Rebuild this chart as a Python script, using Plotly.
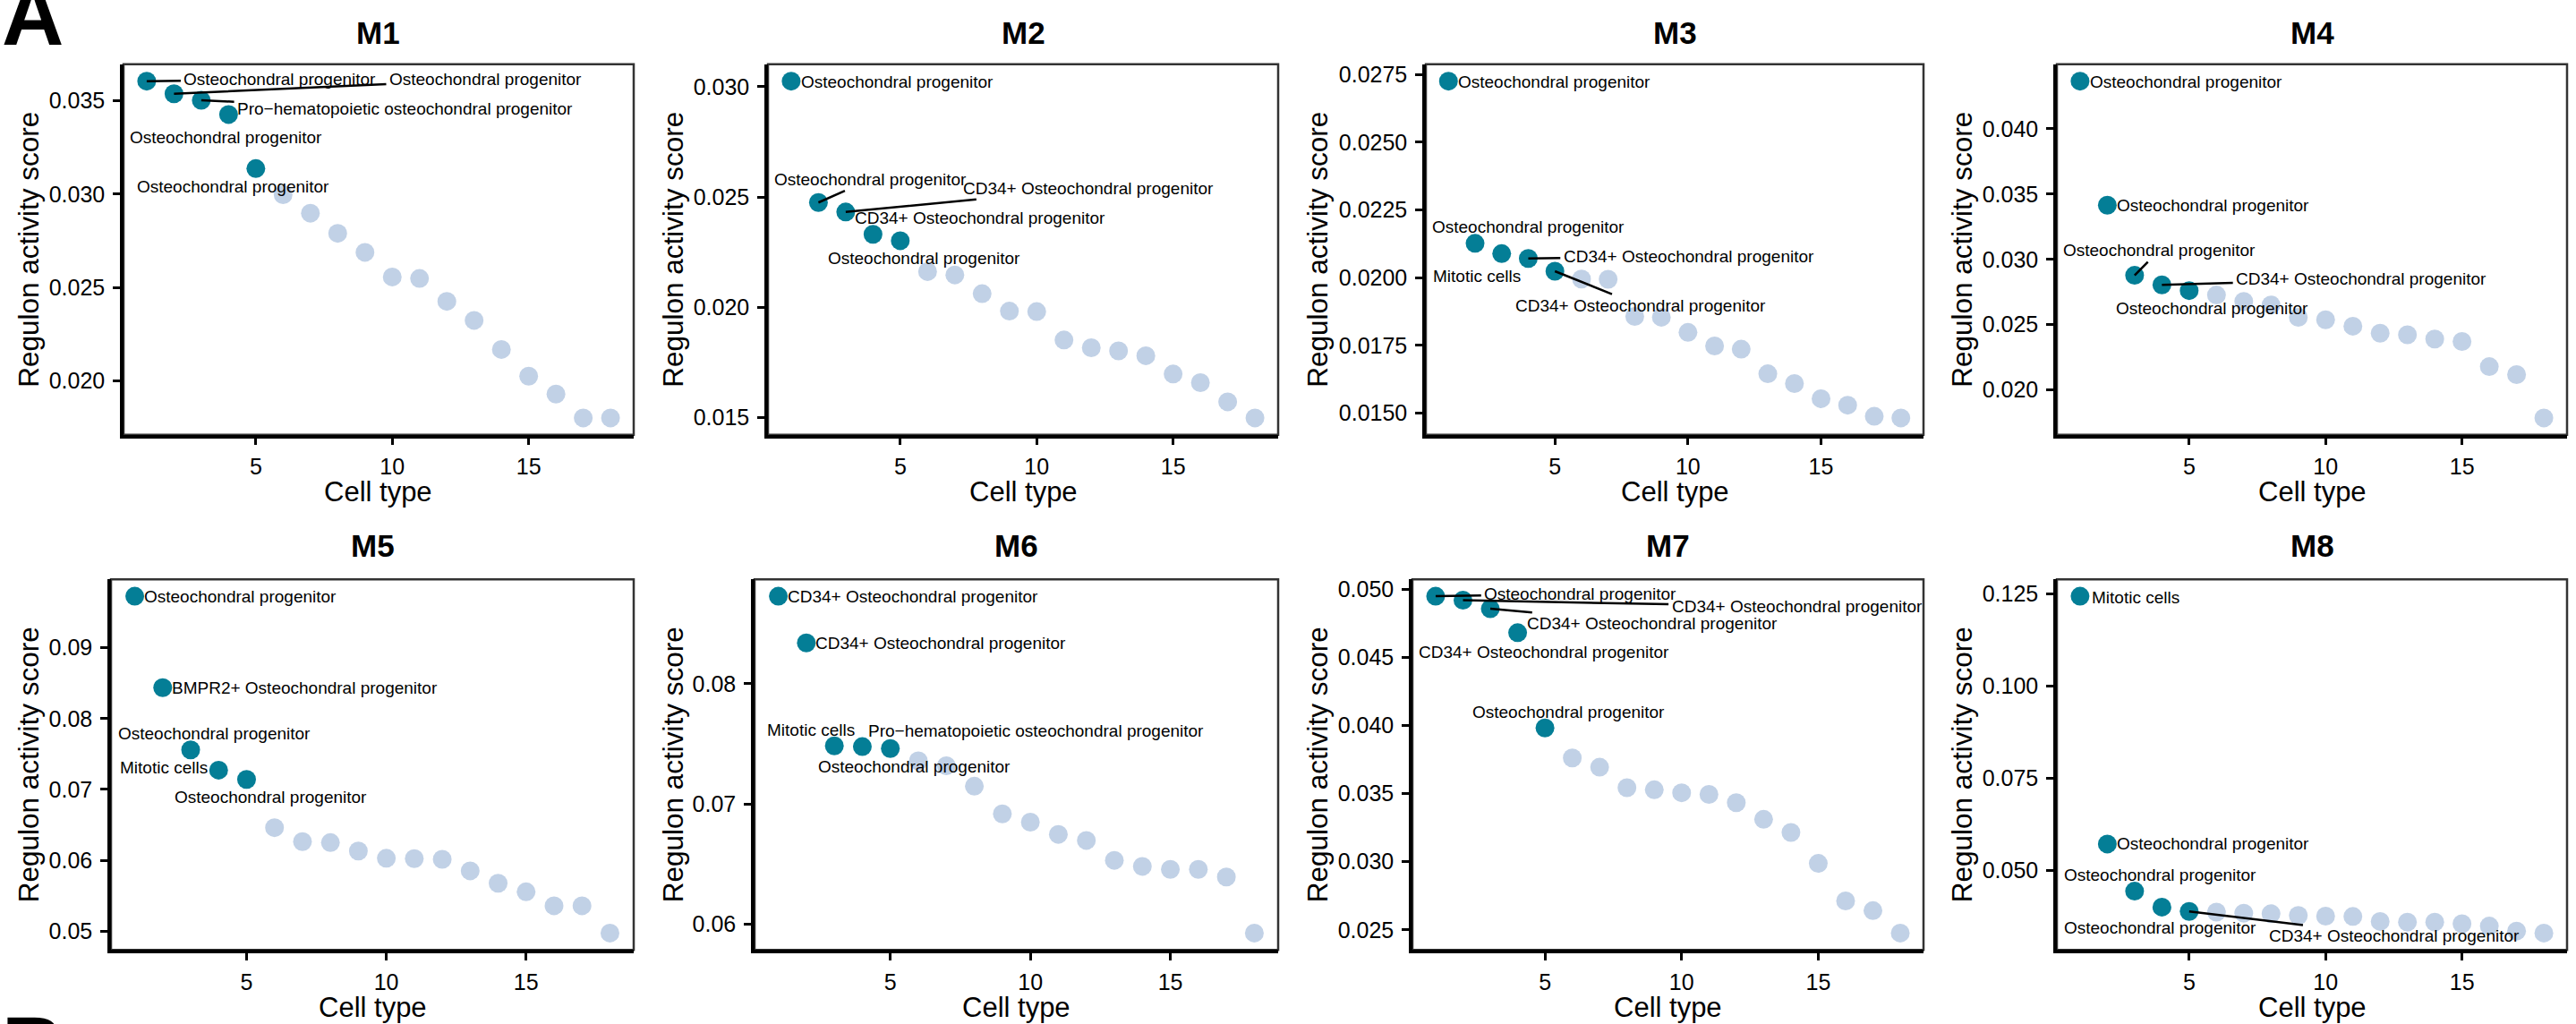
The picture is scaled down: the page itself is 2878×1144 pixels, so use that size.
import plotly.graph_objects as go

# ---------------- data ----------------
cell_type = list(range(1, 19))
module_names = ["M1", "M2", "M3", "M4", "M5", "M6", "M7", "M8"]

m1_scores = [0.03606, 0.03538, 0.03503, 0.03427, 0.03137, 0.02997, 0.02898, 0.02790, 0.02688,
             0.02556, 0.02548, 0.02425, 0.02323, 0.02167, 0.02024, 0.01928, 0.01800, 0.01800]
m2_scores = [0.03025, 0.02475, 0.02432, 0.02331, 0.02302, 0.02162, 0.02147, 0.02062, 0.01983,
             0.01981, 0.01852, 0.01817, 0.01803, 0.01781, 0.01698, 0.01659, 0.01572, 0.01499]
m3_scores = [0.02726, 0.02127, 0.02089, 0.02071, 0.02024, 0.01995, 0.01994, 0.01857, 0.01854,
             0.01798, 0.01748, 0.01736, 0.01645, 0.01609, 0.01553, 0.01529, 0.01488, 0.01482]
m4_scores = [0.04366, 0.03415, 0.02878, 0.02805, 0.02761, 0.02727, 0.02678, 0.02651, 0.02556,
             0.02537, 0.02488, 0.02434, 0.02422, 0.02390, 0.02371, 0.02178, 0.02117, 0.01785]
m5_scores = [0.09728, 0.08437, 0.07559, 0.07272, 0.07141, 0.06460, 0.06263, 0.06249, 0.06131,
             0.06028, 0.06023, 0.06014, 0.05850, 0.05676, 0.05554, 0.05357, 0.05357, 0.04972]
m6_scores = [0.08728, 0.08340, 0.07483, 0.07477, 0.07461, 0.07358, 0.07317, 0.07147, 0.06917,
             0.06848, 0.06746, 0.06696, 0.06530, 0.06480, 0.06455, 0.06455, 0.06392, 0.05925]
m7_scores = [0.04951, 0.04922, 0.04859, 0.04683, 0.03983, 0.03763, 0.03695, 0.03544, 0.03529,
             0.03507, 0.03495, 0.03434, 0.03312, 0.03215, 0.02988, 0.02712, 0.02641, 0.02476]
m8_scores = [0.12428, 0.05720, 0.04442, 0.04010, 0.03893, 0.03875, 0.03848, 0.03830, 0.03785,
             0.03767, 0.03758, 0.03623, 0.03605, 0.03605, 0.03560, 0.03497, 0.03362, 0.03308]

OP = "Osteochondral progenitor"
CD = "CD34+ Osteochondral progenitor"
PH = "Pro\u2212hematopoietic osteochondral progenitor"
MC = "Mitotic cells"
BM = "BMPR2+ Osteochondral progenitor"

m1_labels = [OP, OP, PH, OP, OP]
m2_labels = [OP, OP, CD, CD, OP]
m3_labels = [OP, OP, MC, CD, CD]
m4_labels = [OP, OP, OP, CD, OP]
m5_labels = [OP, BM, OP, MC, OP]
m6_labels = [CD, CD, MC, OP, PH]
m7_labels = [OP, CD, CD, CD, OP]
m8_labels = [MC, OP, OP, OP, CD]

m1_yticks = ["0.020", "0.025", "0.030", "0.035"]
m2_yticks = ["0.015", "0.020", "0.025", "0.030"]
m3_yticks = ["0.0150", "0.0175", "0.0200", "0.0225", "0.0250", "0.0275"]
m4_yticks = ["0.020", "0.025", "0.030", "0.035", "0.040"]
m5_yticks = ["0.05", "0.06", "0.07", "0.08", "0.09"]
m6_yticks = ["0.06", "0.07", "0.08"]
m7_yticks = ["0.025", "0.030", "0.035", "0.040", "0.045", "0.050"]
m8_yticks = ["0.050", "0.075", "0.100", "0.125"]
x_ticks = ["5", "10", "15"]

x_title = "Cell type"
y_title = "Regulon activity score"
n_highlight = 5

scores = [m1_scores, m2_scores, m3_scores, m4_scores, m5_scores, m6_scores, m7_scores, m8_scores]
labels = [m1_labels, m2_labels, m3_labels, m4_labels, m5_labels, m6_labels, m7_labels, m8_labels]
yticks = [m1_yticks, m2_yticks, m3_yticks, m4_yticks, m5_yticks, m6_yticks, m7_yticks, m8_yticks]

# ---------------- layout / style ----------------
W, H = 2878, 1144
FONT = "Liberation Sans, Arial, Helvetica, sans-serif"
TEAL = "#047E96"
LIGHT = "#C1D1E6"

# panel box in pixels: (left, right, top, bottom)
boxes = [(138, 708, 69, 484), (858, 1428, 69, 484), (1593, 2149, 69, 484), (2298, 2868, 69, 484),
         (124, 708, 646, 1061), (843, 1428, 646, 1061), (1578, 2149, 646, 1061), (2298, 2868, 646, 1061)]
col_left = [0, 720, 1440, 2160, 0, 720, 1440, 2160]
title_y = [34, 34, 34, 34, 608, 608, 608, 608]
xtitle_y = [548, 548, 548, 548, 1125, 1125, 1125, 1125]

# label placements (label centre in data coords, draw segment?)
label_place = [
    [(5.89, 0.03614, True), (13.42, 0.03614, True), (10.47, 0.03456, True), (3.92, 0.03302, False), (4.16, 0.03039, False)],
    [(4.89, 0.03020, False), (3.92, 0.02580, True), (11.90, 0.02539, True), (7.92, 0.02404, False), (5.86, 0.02224, False)],
    [(4.98, 0.02723, False), (4.01, 0.02188, False), (2.08, 0.02006, False), (10.03, 0.02080, True), (8.21, 0.01897, True)],
    [(4.89, 0.04359, False), (5.87, 0.03415, False), (3.92, 0.03073, True), (11.31, 0.02849, True), (5.84, 0.02627, False)],
    [(4.79, 0.09718, False), (7.09, 0.08437, False), (3.85, 0.07793, False), (2.03, 0.07310, False), (5.85, 0.06897, False)],
    [(5.82, 0.08722, False), (6.81, 0.08335, False), (2.17, 0.07613, False), (5.85, 0.07308, False), (10.20, 0.07607, False)],
    [(6.30, 0.04968, True), (14.22, 0.04873, True), (8.93, 0.04751, True), (4.95, 0.04541, False), (5.86, 0.04102, False)],
    [(3.03, 0.12383, False), (5.89, 0.05721, False), (3.93, 0.04893, False), (3.93, 0.03444, False), (12.52, 0.03227, True)],
]

fig = go.Figure()
annotations = []
shapes = []
layout_axes = {}

for i, name in enumerate(module_names):
    k = i + 1
    xr = "x" if k == 1 else f"x{k}"
    yr = "y" if k == 1 else f"y{k}"
    xa = "xaxis" if k == 1 else f"xaxis{k}"
    ya = "yaxis" if k == 1 else f"yaxis{k}"
    l, r, t, b = boxes[i]
    s = scores[i]

    fig.add_trace(go.Scatter(x=cell_type[n_highlight:], y=s[n_highlight:], mode="markers",
                             marker=dict(size=21, color=LIGHT, line=dict(width=0)),
                             xaxis=xr, yaxis=yr, showlegend=False, hoverinfo="x+y"))
    fig.add_trace(go.Scatter(x=cell_type[:n_highlight], y=s[:n_highlight], mode="markers",
                             marker=dict(size=21, color=TEAL, line=dict(width=0)),
                             xaxis=xr, yaxis=yr, showlegend=False, hoverinfo="x+y"))

    lo, hi = min(s), max(s)
    pad = 0.05 * (hi - lo)
    xlo, xhi = min(cell_type), max(cell_type)
    xpad = 0.05 * (xhi - xlo)

    layout_axes[xa] = dict(domain=[l / W, r / W], range=[xlo - xpad, xhi + xpad], anchor=yr,
                           tickmode="array", tickvals=[float(v) for v in x_ticks], ticktext=x_ticks,
                           ticks="outside", ticklen=8, tickwidth=3, tickcolor="black",
                           ticklabelstandoff=3,
                           showline=True, linecolor="black", linewidth=3.5, showgrid=False,
                           zeroline=False, tickfont=dict(family=FONT, size=25, color="black"))
    layout_axes[ya] = dict(domain=[1 - b / H, 1 - t / H], range=[lo - pad, hi + pad], anchor=xr,
                           tickmode="array", tickvals=[float(v) for v in yticks[i]], ticktext=yticks[i],
                           ticks="outside", ticklen=8, tickwidth=3, tickcolor="black",
                           ticklabelstandoff=4,
                           showline=True, linecolor="black", linewidth=3.5, showgrid=False,
                           zeroline=False, tickfont=dict(family=FONT, size=25, color="black"))

    shapes.append(dict(type="rect", xref=f"{xr} domain", yref=f"{yr} domain", x0=0, x1=1, y0=0, y1=1,
                       line=dict(color="#333333", width=2.5), layer="below"))

    cx = (l + r) / 2 / W
    annotations.append(dict(text=f"<b>{name}</b>", x=cx, y=1 - title_y[i] / H, xref="paper", yref="paper",
                            showarrow=False, xanchor="center", yanchor="middle",
                            font=dict(family=FONT, size=35, color="black")))
    annotations.append(dict(text=x_title, x=cx, y=1 - xtitle_y[i] / H, xref="paper", yref="paper",
                            showarrow=False, xanchor="center", yanchor="middle",
                            font=dict(family=FONT, size=31, color="black")))
    annotations.append(dict(text=y_title, x=(col_left[i] + 32) / W, y=1 - (t + b) / 2 / H,
                            xref="paper", yref="paper", textangle=-90, showarrow=False,
                            xanchor="center", yanchor="middle",
                            font=dict(family=FONT, size=31.5, color="black")))

    for j in range(n_highlight):
        lx, ly, seg = label_place[i][j]
        txt = labels[i][j]
        if seg:
            annotations.append(dict(text=txt, x=cell_type[j], y=s[j], xref=xr, yref=yr,
                                    ax=lx, ay=ly, axref=xr, ayref=yr, showarrow=True,
                                    arrowhead=0, arrowwidth=2.5, arrowcolor="black",
                                    standoff=0, startstandoff=2,
                                    font=dict(family=FONT, size=19, color="black")))
        else:
            annotations.append(dict(text=txt, x=lx, y=ly, xref=xr, yref=yr, showarrow=False,
                                    xanchor="center", yanchor="middle",
                                    font=dict(family=FONT, size=19, color="black")))

# panel letters (clipped by the figure edges, as in the source)
annotations.append(dict(text="<b>A</b>", x=0, y=1 - 14 / H, xref="paper", yref="paper", showarrow=False,
                        xanchor="left", yanchor="middle", font=dict(family=FONT, size=96, color="black")))
annotations.append(dict(text="<b>B</b>", x=0, y=1 - 1170 / H, xref="paper", yref="paper", showarrow=False,
                        xanchor="left", yanchor="middle", font=dict(family=FONT, size=96, color="black")))

fig.update_layout(width=W, height=H, margin=dict(l=0, r=0, t=0, b=0),
                  paper_bgcolor="white", plot_bgcolor="white", showlegend=False,
                  annotations=annotations, shapes=shapes, **layout_axes)

fig.write_html("out.html", config={"displayModeBar": False},
               post_script="document.body.style.margin='0';document.body.style.overflow='hidden';")
